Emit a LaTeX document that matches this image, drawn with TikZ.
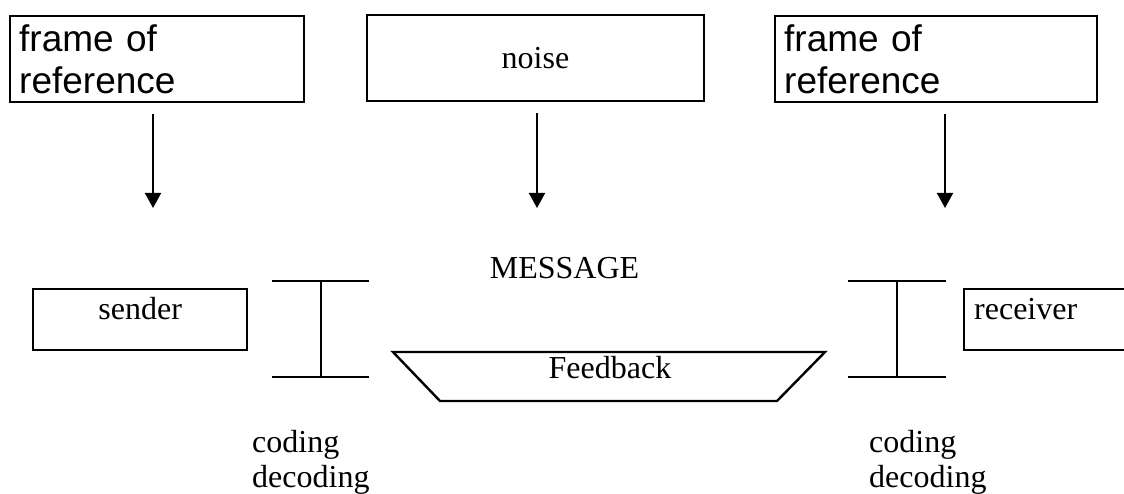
\documentclass[tikz,border=0pt]{standalone}
\usepackage{fontspec}
\setmainfont{Liberation Serif}
\newfontfamily\arialfont{Liberation Sans}
\usetikzlibrary{arrows.meta}
\begin{document}
\begin{tikzpicture}[x=1pt,y=-1pt,
  box/.style={draw, line width=2.4pt, font=\fontsize{32}{35}\selectfont},
  framebox/.style={draw, line width=2.4pt, anchor=north west, inner xsep=9pt, inner ysep=0pt,
    align=left, text height=35.7pt, text depth=50.3pt, font=\arialfont\fontsize{37}{42}\selectfont},
  serif/.style={font=\fontsize{32}{35}\selectfont},
  arr/.style={line width=2pt, -{Triangle[length=15pt,width=16pt]}, shorten <=11pt},
  beam/.style={line width=2.4pt},
  beamv/.style={line width=2pt}]
\clip (0,0) rectangle (1124,494);
\fill[white] (0,0) rectangle (1124,494);

% top boxes
\node[framebox, text width=276pt] (f1) at (9,15) {frame of\\reference};
\node[box, minimum width=337pt, minimum height=86pt] (noise) at (535.5,58) {noise};
\node[framebox, text width=304pt] (f2) at (774,15) {frame of\\reference};

% arrow ends
\coordinate (a1) at (153,208);
\coordinate (a2) at (537,208);
\coordinate (a3) at (945,208);
\draw[arr] (f1.south -| a1) -- (a1);
\draw[arr] (noise.south -| a2) -- (a2);
\draw[arr] (f2.south -| a3) -- (a3);

% sender / receiver
\node[box, anchor=north west, minimum width=214pt, inner ysep=0pt, text height=30pt, text depth=31pt] (sender) at (32,288) {sender};
\node[box, anchor=north west, inner xsep=10pt, inner ysep=0pt, text width=160pt, align=left, text height=30pt, text depth=31pt] (receiver) at (963,288) {receiver};

% I-beams
\draw[beam] (272,281) -- (369,281);
\draw[beam] (272,377) -- (369,377);
\draw[beamv] (321,281) -- (321,377);
\draw[beam] (848,281) -- (946,281);
\draw[beam] (848,377) -- (946,377);
\draw[beamv] (897,281) -- (897,377);

% message and feedback
\node[serif, anchor=base] (msg) at (564.5,279) {MESSAGE};
\draw[beam] (393,352) -- (825,352) -- (777,401) -- (440,401) -- cycle;
\node[serif, anchor=base] (fb) at (610,378) {Feedback};

% coding / decoding
\node[serif, anchor=base west, text width=160pt, align=left, inner sep=0pt] (cd1) at (252,452) {coding\\decoding};
\node[serif, anchor=base west, text width=160pt, align=left, inner sep=0pt] (cd2) at (869,452) {coding\\decoding};
\end{tikzpicture}
\end{document}
